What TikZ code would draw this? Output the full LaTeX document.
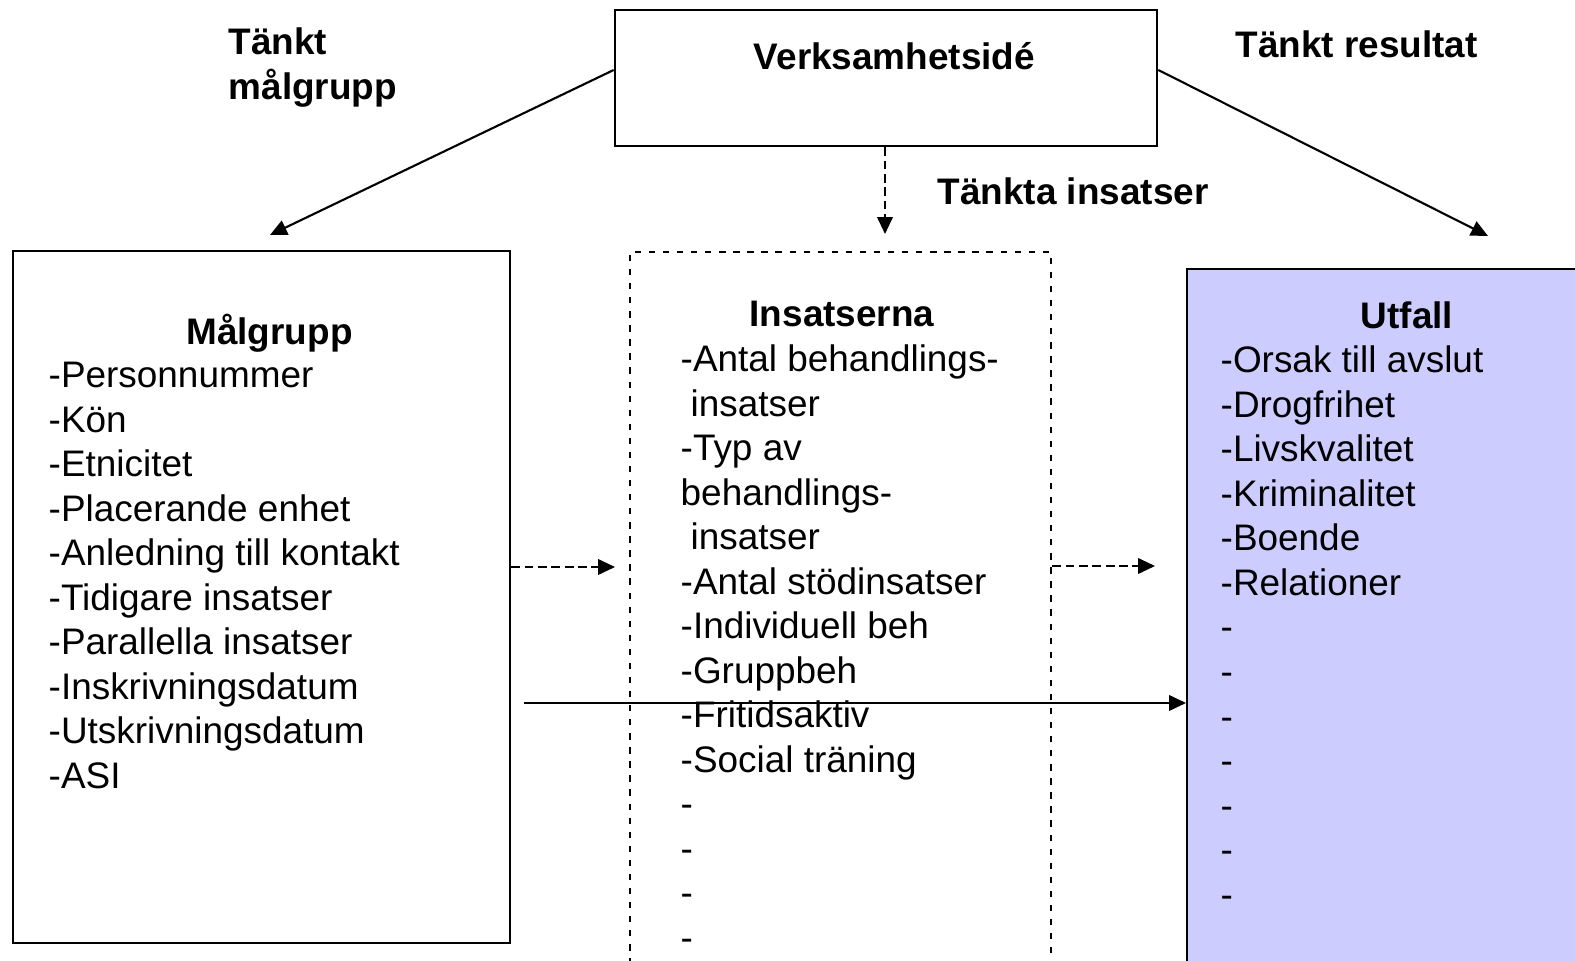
\documentclass[tikz,border=0pt]{standalone}
\usepackage{fontspec}
\setmainfont{Liberation Sans}
\usetikzlibrary{arrows.meta}
\definecolor{utfallblue}{HTML}{CCCCFF}
\tikzset{% 
    box/.style={draw,line width=0.65pt,inner sep=0pt},
    item/.style={inner sep=0pt,anchor=base west,font=\fontsize{10.5}{12.6}\selectfont},
    head/.style={inner sep=0pt,anchor=base,font=\fontsize{10.5}{12.6}\selectfont\bfseries}
}

\begin{document}
\begin{tikzpicture}[x=0.01cm,y=-0.01cm,
            edge/.style={line width=0.6pt,-{Triangle[length=4.8pt,width=4.4pt]}},
            dashedge/.style={edge,dash pattern=on 2.5pt off 1.3pt}
            ]
            \clip (0,0) rectangle (1575,961);

            \node[box,minimum width=5.42cm,minimum height=1.36cm] (idea) at (886,78){};
            \node[head] (ideatxt) at (894.5,70){Verksamhetsidé};

            \node[box,minimum width=4.97cm,minimum height=6.92cm] (malgrupp) at (261.5,597){};
            \node[box,dash pattern=on 1.8pt off 2.2pt,minimum width=4.21cm,minimum height=8cm,anchor=north] (insats) at (840.5,251){};
            \node[box,fill=utfallblue,minimum width=4.2cm,minimum height=8cm,anchor=north west] (utfall) at (1186,268){};

            \node[head,anchor=base west] (tankt1) at (228,55){Tänkt};
            \node[head,anchor=base west] (tankt2) at (228,99.5){målgrupp};
            \node[head,anchor=base west] (tanktres) at (1235,58){Tänkt resultat};
            \node[head,anchor=base west] (tanktins) at (937,205){Tänkta insatser};

            \node[head] (malhead) at (269.5,345){Målgrupp};
            \node[head] (inshead) at (842,327){Insatserna};
            \node[head] (utfhead) at (1407,329){Utfall};

            \foreach \txt [count=\i] in {-Personnummer,-Kön,-Etnicitet,-Placerande enhet,-Anledning till kontakt,-Tidigare insatser,-Parallella insatser,-Inskrivningsdatum,-Utskrivningsdatum,-ASI}
                \node[item] (mal\i) at (48,{343.5+44.5*\i}){\txt};

            \foreach \dx/\txt [count=\i] in {0/-Antal behandlings-,10/insatser,0/-Typ av,0/behandlings-,10/insatser,0/-Antal stödinsatser,0/-Individuell beh,0/-Gruppbeh,0/-Fritidsaktiv,0/-Social träning,0/-,0/-,0/-,0/-}
                \node[item] (ins\i) at ({680+\dx},{327.5+44.5*\i}){\txt};

            \foreach \txt [count=\i] in {-Orsak till avslut,-Drogfrihet,-Livskvalitet,-Kriminalitet,-Boende,-Relationer,-,-,-,-,-,-,-}
                \node[item] (utf\i) at (1220,{328.5+44.5*\i}){\txt};

            \coordinate (malpil) at (270,235);
            \coordinate (respil) at (1488,236);
            \coordinate (inspil) at (885,234);
            \coordinate (malins) at (615,567);
            \coordinate (insutf) at (1155,566);
            \coordinate (malutf) at (524,703);

            \draw[edge] ([yshift=0.08cm]idea.west) -- (malpil);
            \draw[edge] ([yshift=0.08cm]idea.east) -- (respil);
            \draw[dashedge] (idea.south -| inspil) -- (inspil);
            \draw[dashedge] (malgrupp.east |- malins) -- (malins);
            \draw[dashedge] (insats.east |- insutf) -- (insutf);
            \draw[edge] (malutf) -- (utfall.west |- malutf);
        \end{tikzpicture}
\end{document}
